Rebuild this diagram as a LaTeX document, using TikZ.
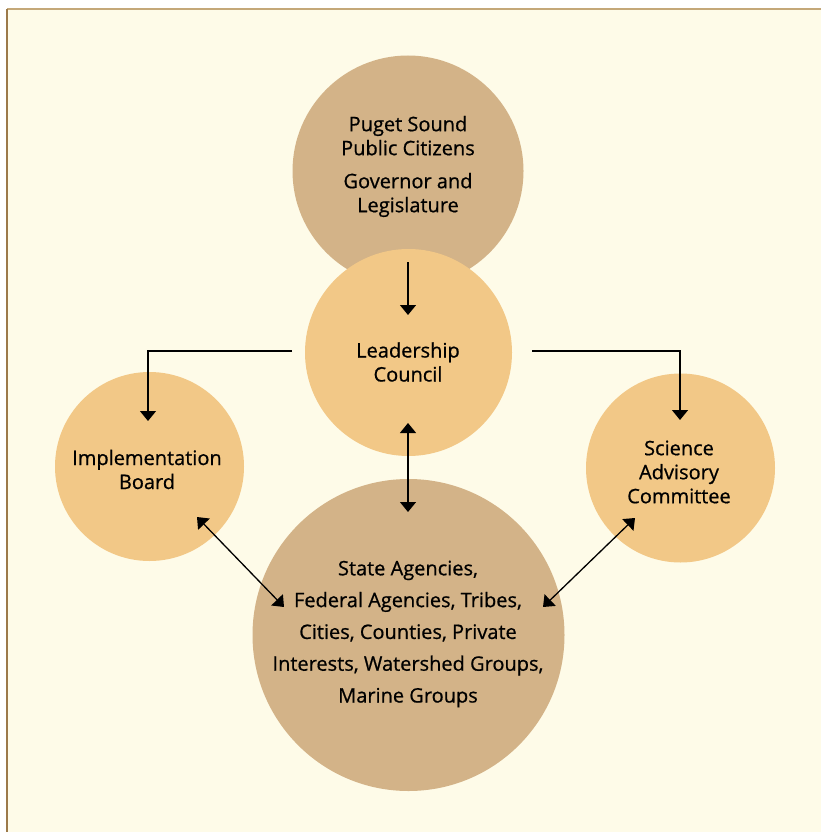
\documentclass[tikz,border=0pt]{standalone}
\usepackage{fontspec}
\setmainfont{Open Sans}
\newfontfamily\dfont{Open Sans}[FakeBold=0.7]
\usetikzlibrary{arrows.meta}
\definecolor{bgcream}{HTML}{FEFBE8}
\definecolor{tan}{HTML}{D3B388}
\definecolor{peach}{HTML}{F2C887}
\definecolor{bordtop}{HTML}{C4A878}
\definecolor{bordleft}{HTML}{9C7A4A}
\tikzset{
  circ/.style={circle, inner sep=0pt, draw=none},
  dark/.style={circ, fill=tan},
  light/.style={circ, fill=peach},
  txt/.style={align=center, inner sep=0pt, font=\dfont\fontsize{20}{24}\selectfont},
  conn/.style={line width=1.3pt, black, -{Triangle[width=16pt,length=10pt]}},
  dconn/.style={line width=1.3pt, black, {Triangle[width=16pt,length=10pt]}-{Triangle[width=16pt,length=10pt]}},
}
\begin{document}
\begin{tikzpicture}[x=1pt,y=-1pt]
\useasboundingbox (0,0) rectangle (821,832);
\fill[white] (0,0) rectangle (821,832);
\fill[bgcream] (7,9) rectangle (821,832);
\draw[bordtop, line width=1.5pt] (7,9) -- (821,9);
\draw[bordleft, line width=1.5pt] (7,9) -- (7,832);

% circles
\node[dark, minimum size=231pt] (top) at (408,171) {};
\node[light, minimum size=207pt] (lc) at (408.5,352.5) {};
\node[light, minimum size=189pt] (ib) at (149.5,466.5) {};
\node[light, minimum size=189pt] (sac) at (680.5,468) {};
\node[dark, minimum size=312pt] (grp) at (408.5,635) {};

% texts
\node[txt] (toptxt) at (408,166.5) {Puget Sound\\Public Citizens\\[9pt]Governor and\\Legislature};
\node[txt] (lctxt) at (408,362) {Leadership\\Council};
\node[txt] (ibtxt) at (147,469.5) {Implementation\\Board};
\node[txt] (sactxt) at (679,472) {Science\\Advisory\\Committee};
\node[txt, font=\dfont\fontsize{20}{31.8}\selectfont] (grptxt) at (408,634) {State Agencies,\\Federal Agencies, Tribes,\\Cities, Counties, Private\\Interests, Watershed Groups,\\Marine Groups};

% connector end points
\coordinate (a1) at (408,262);
\coordinate (a2) at (408,315);
\coordinate (b1) at (292,351);
\coordinate (b2) at (148,421);
\coordinate (c1) at (532,351);
\coordinate (c2) at (680,420);
\coordinate (d1) at (408,423);
\coordinate (d2) at (408,512);
\coordinate (e1) at (197,517);
\coordinate (e2) at (284,607);
\coordinate (f1) at (635,518);
\coordinate (f2) at (543,607);

\draw[conn] (a1) -- (a2);
\draw[conn] (b1) -| (b2);
\draw[conn] (c1) -| (c2);
\draw[dconn] (d1) -- (d2);
\draw[dconn] (e1) -- (e2);
\draw[dconn] (f1) -- (f2);
\end{tikzpicture}
\end{document}
